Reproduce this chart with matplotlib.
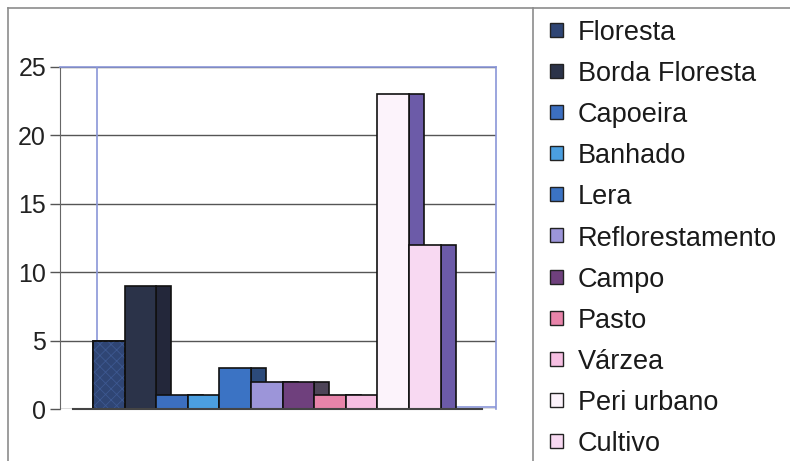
import numpy as np
import matplotlib.pyplot as plt
from matplotlib.lines import Line2D
from matplotlib.patches import Rectangle

plt.rcParams['font.family'] = ['Liberation Sans', 'DejaVu Sans']
plt.rcParams['hatch.linewidth'] = 0.6

# land-use classes and counts
categories = ['Floresta', 'Borda Floresta', 'Capoeira', 'Banhado', 'Lera',
              'Reflorestamento', 'Campo', 'Pasto', 'Várzea', 'Peri urbano', 'Cultivo']
counts = [5, 9, 1, 1, 3, 2, 2, 1, 1, 23, 12]

front_colors = ['#2f4574', '#2b3349', '#3c6fc0', '#4b9fe0', '#3b73c4', '#9c95d9',
                '#6f407d', '#e884aa', '#f6bfe2', '#fcf3fb', '#f8d9f2']
side_colors = ['#1f2c4c', '#23273a', '#2b4f86', '#3170a8', '#2c4a7a', '#6f68a8',
               '#4e4458', '#b86486', '#c893b4', '#6c5ba8', '#6c5ba8']

W, H = 790, 461
fig = plt.figure(figsize=(W / 100, H / 100), dpi=100)

def fx(px):
    return px / W

def fy(py):
    return 1 - py / H

# plot area: left edge at x=60px, top at y=67px, floor at y=409px
ax = fig.add_axes([fx(60), fy(409), fx(496) - fx(60), fy(67) - fy(409)])

x = np.arange(len(categories))
depth = 0.47

# side faces sit behind the next column's front
ax.bar(x + 1, counts, width=depth, align='edge', color=side_colors,
       edgecolor='#111111', linewidth=1.2, zorder=2)
ax.bar(x, counts, width=1, align='edge', color=front_colors,
       edgecolor='#111111', linewidth=1.2, zorder=3)
# mottled texture on the Floresta column
ax.bar(x[0], counts[0], width=1, align='edge', facecolor='none',
       edgecolor='#3d5890', hatch='xxx', linewidth=0, zorder=3.5)
ax.bar(x[0], counts[0], width=1, align='edge', facecolor='none',
       edgecolor='#111111', linewidth=1.2, zorder=3.6)

ax.set_xlim(-1.044, 12.75)
ax.set_ylim(0, 25)
ax.set_yticks([0, 5, 10, 15, 20, 25])
ax.set_xticks([])
ax.tick_params(axis='y', labelsize=18, length=7, width=1, color='#555555', pad=3,
               labelcolor='#222222')

ax.yaxis.grid(True, color='#555555', linewidth=1)
ax.set_axisbelow(True)

for side in ['top', 'right']:
    ax.spines[side].set_color('#8a96d8')
    ax.spines[side].set_linewidth(1.2)
ax.spines['left'].set_color('#666666')
ax.spines['bottom'].set_visible(False)

# back wall edges and floor line
wall_x = (97 - 60) / 436
ax.plot([wall_x, wall_x], [0.006, 1], transform=ax.transAxes, color='#8a96d8',
        linewidth=1.2, zorder=1)
ax.plot([wall_x, 1], [0.006, 0.006], transform=ax.transAxes, color='#8a96d8',
        linewidth=1.2, zorder=1)
ax.plot([(73 - 60) / 436, (482 - 60) / 436], [0, 0], transform=ax.transAxes,
        color='#444444', linewidth=1.5, zorder=4, clip_on=False)

# chart frame and legend box
frame = dict(color='#8c8c8c', linewidth=1.2)
fig.add_artist(Line2D([fx(8), 1], [fy(8), fy(8)], **frame))
fig.add_artist(Line2D([fx(8), fx(8)], [0, fy(8)], **frame))
fig.add_artist(Line2D([fx(533), fx(533)], [0, fy(8)], **frame))

# legend entries
for k, (name, c) in enumerate(zip(categories, front_colors)):
    base = 40 + 41.1 * k
    fig.add_artist(Rectangle((fx(550), fy(base - 3)), 13 / W, 14 / H,
                             facecolor=c, edgecolor='#222222', linewidth=1))
    fig.text(fx(578), fy(base), name, fontsize=19.5, color='#1a1a1a',
             ha='left', va='baseline')

fig.savefig('out.png', dpi=100)
